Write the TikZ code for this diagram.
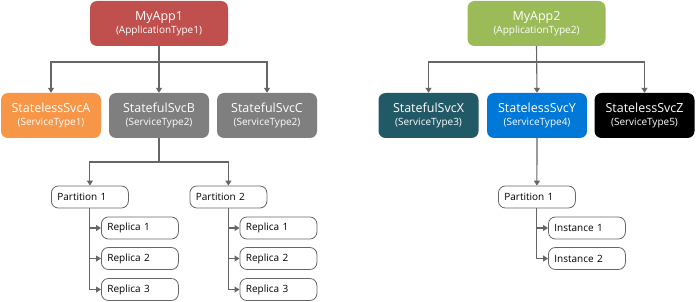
\documentclass[tikz,border=0pt]{standalone}
\usepackage{fontspec}
\setmainfont{Open Sans}
\usetikzlibrary{arrows.meta}
\definecolor{appred}{HTML}{C0504D}
\definecolor{svcorange}{HTML}{F79646}
\definecolor{svcgray}{HTML}{7F7F7F}
\definecolor{appgreen}{HTML}{9BBB59}
\definecolor{svcteal}{HTML}{215967}
\definecolor{svcblue}{HTML}{0078D7}
\definecolor{linegray}{HTML}{666666}
\newcommand{\subt}[1]{{\fontsize{10}{12}\selectfont #1}}
\tikzset{
  colbox/.style={rounded corners=7pt, minimum height=45pt, inner sep=0pt, align=center, text=white, font=\fontsize{12.5}{15}\selectfont},
  appbox/.style={colbox, minimum width=138pt},
  svcbox/.style={colbox, minimum width=100pt},
  leafbox/.style={draw=linegray, line width=0.8pt, rounded corners=7pt, minimum height=22pt, text width=65pt, inner xsep=6pt, inner ysep=0pt, align=left, text=black, font=\fontsize{10}{12}\selectfont, anchor=west},
  conn/.style={draw=linegray, line width=1.1pt, -{Triangle[length=5pt,width=6pt]}}
}
\begin{document}
\begin{tikzpicture}[x=1pt,y=-1pt]
\useasboundingbox (0,0) rectangle (696,302);
% App 1
\node[appbox, fill=appred] (app1) at (159,23.5) {MyApp1\\[-2pt]\subt{(ApplicationType1)}};
\node[svcbox, fill=svcorange] (sa) at (51,115.5) {StatelessSvcA\\[-2pt]\subt{(ServiceType1)}};
\node[svcbox, fill=svcgray] (sb) at (159,115.5) {StatefulSvcB\\[-2pt]\subt{(ServiceType2)}};
\node[svcbox, fill=svcgray] (sc) at (267,115.5) {StatefulSvcC\\[-2pt]\subt{(ServiceType2)}};
\coordinate (j1) at (159,62);
\draw[conn] (app1.south) -- (sb.north);
\draw[conn] (j1) -| (sa.north);
\draw[conn] (j1) -| (sc.north);
% partitions of B
\node[leafbox] (p1) at (51,197) {Partition 1};
\node[leafbox] (p2) at (189.5,197) {Partition 2};
\coordinate (j2) at (159,162);
\draw[conn] (sb.south) -- (j2) -| (p1.north);
\draw[conn] (j2) -| (p2.north);
\node[leafbox] (r11) at (101,228) {Replica 1};
\node[leafbox] (r12) at (101,258.5) {Replica 2};
\node[leafbox] (r13) at (101,289.5) {Replica 3};
\node[leafbox] (r21) at (239.5,228) {Replica 1};
\node[leafbox] (r22) at (239.5,258.5) {Replica 2};
\node[leafbox] (r23) at (239.5,289.5) {Replica 3};
\foreach \r in {r11,r12,r13}{\draw[conn] (p1.south) |- (\r.west);}
\foreach \r in {r21,r22,r23}{\draw[conn] (p2.south) |- (\r.west);}
% App 2
\node[appbox, fill=appgreen] (app2) at (536.5,23.5) {MyApp2\\[-2pt]\subt{(ApplicationType2)}};
\node[svcbox, fill=svcteal] (sx) at (428.5,115.5) {StatefulSvcX\\[-2pt]\subt{(ServiceType3)}};
\node[svcbox, fill=svcblue] (sy) at (537,115.5) {StatelessSvcY\\[-2pt]\subt{(ServiceType4)}};
\node[svcbox, fill=black] (sz) at (644.5,115.5) {StatelessSvcZ\\[-2pt]\subt{(ServiceType5)}};
\coordinate (k1) at (537,62);
\draw[conn] (app2.south) -- (sy.north);
\draw[conn] (k1) -| (sx.north);
\draw[conn] (k1) -| (sz.north);
\node[leafbox] (q1) at (498,197) {Partition 1};
\draw[conn] (sy.south) -- (q1.north);
\node[leafbox] (i1) at (548,228) {Instance 1};
\node[leafbox] (i2) at (548,258.5) {Instance 2};
\foreach \r in {i1,i2}{\draw[conn] (q1.south) |- (\r.west);}
\end{tikzpicture}
\end{document}
